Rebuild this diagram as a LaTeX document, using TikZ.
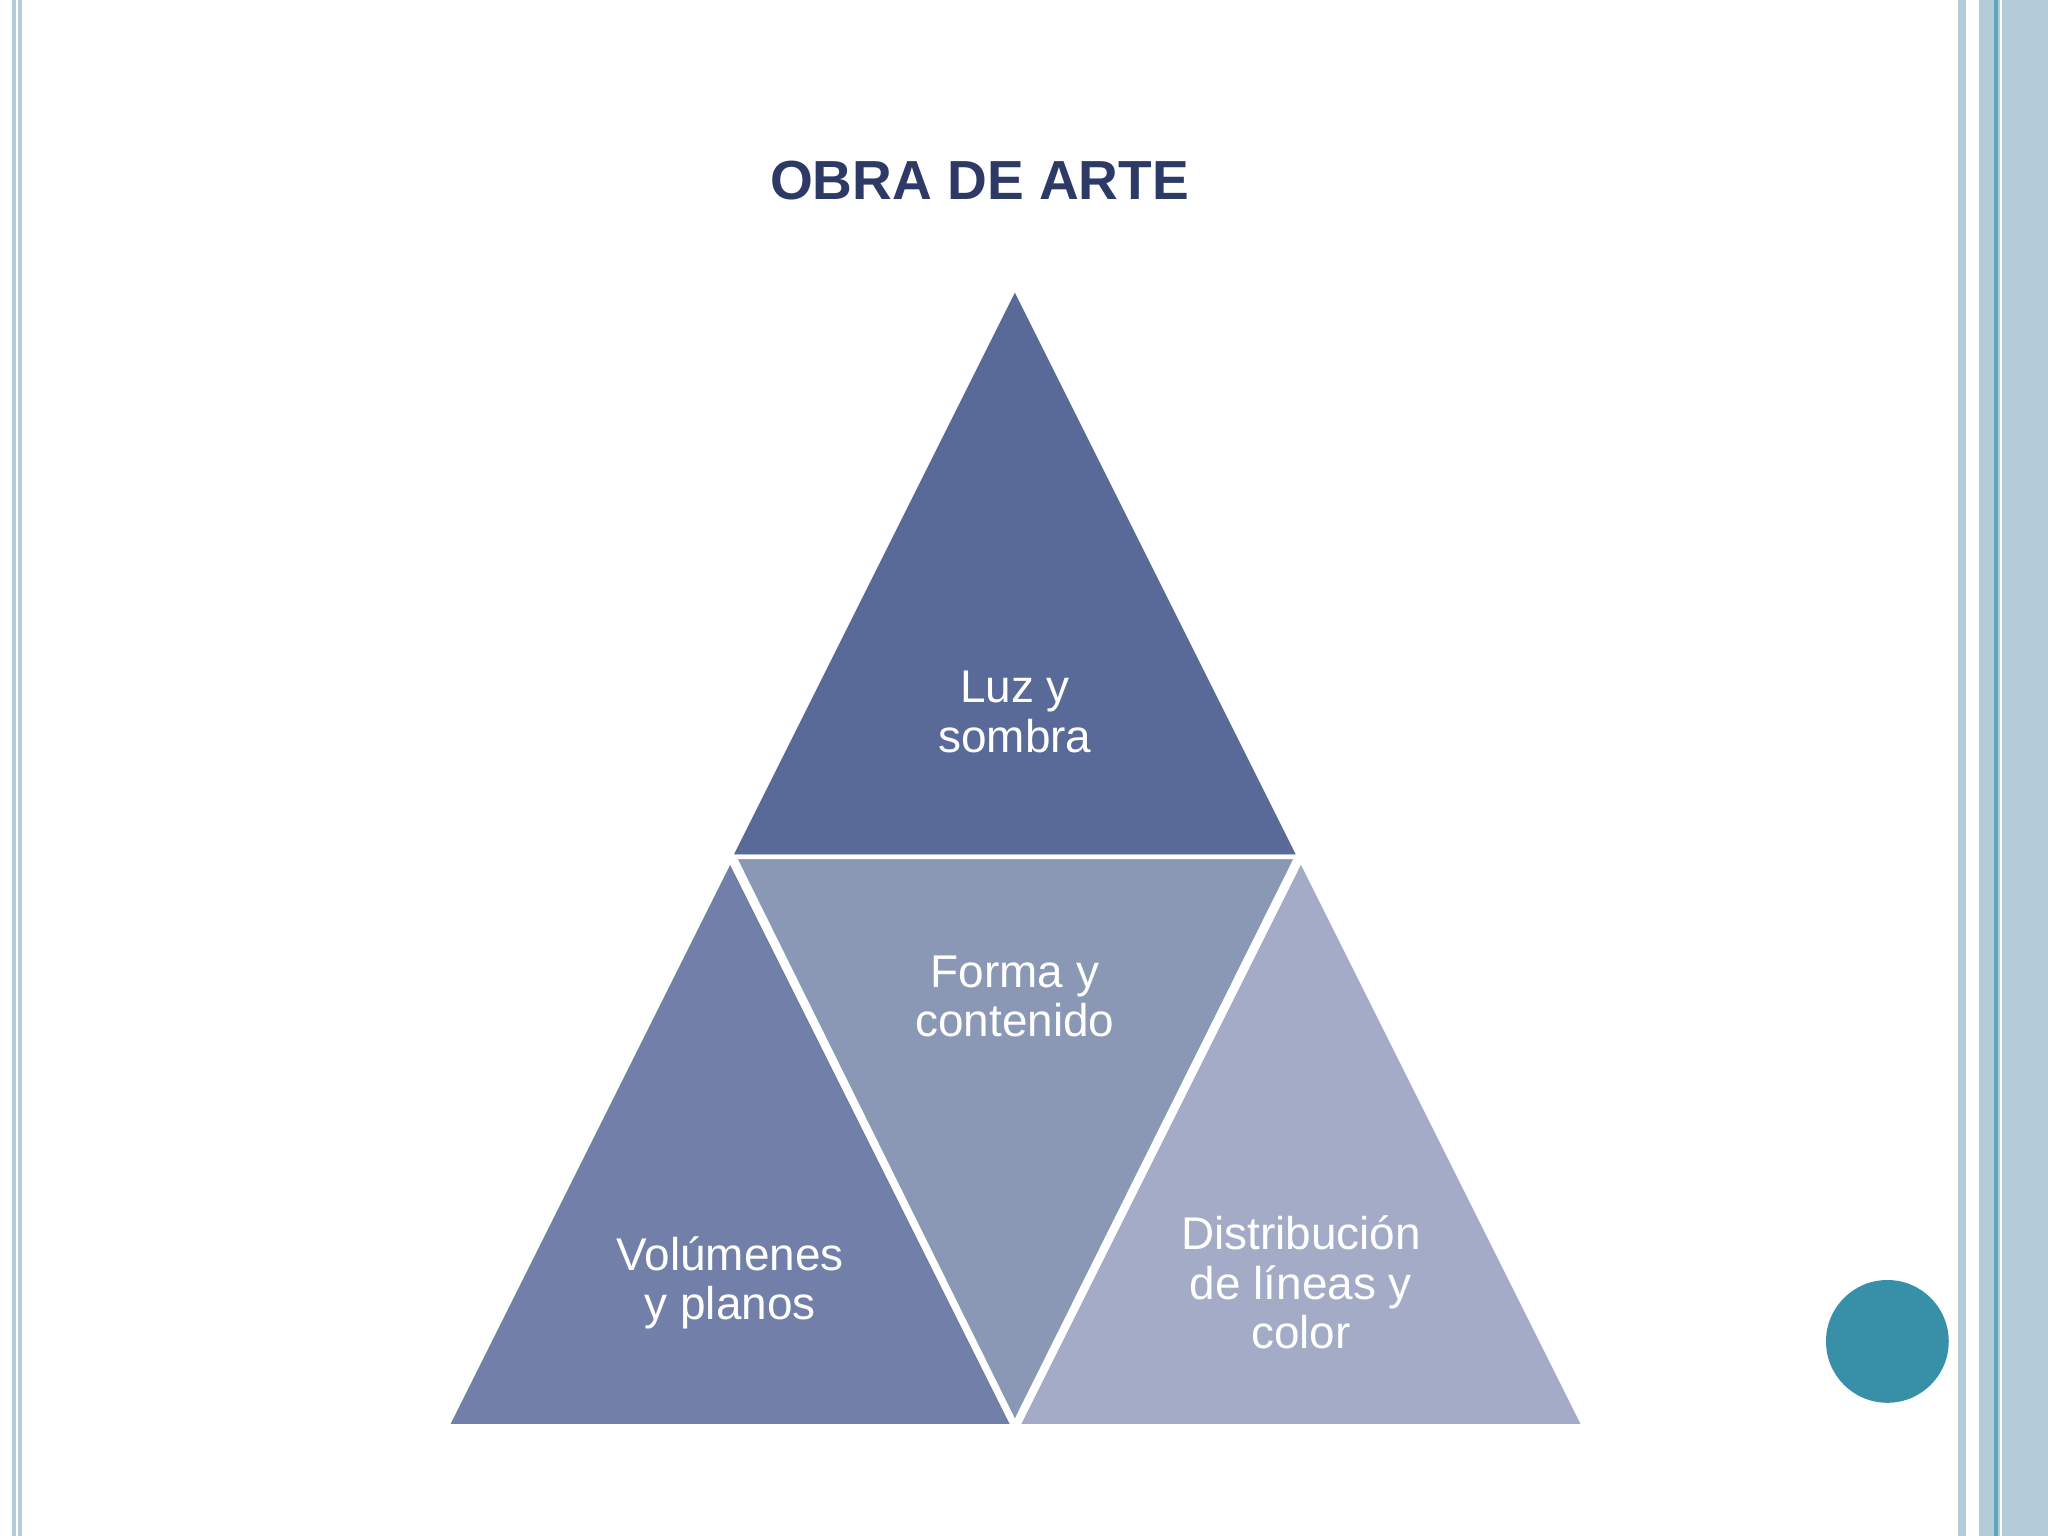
\documentclass[tikz,border=0pt]{standalone}
\usepackage{fontspec}
\setmainfont{Liberation Sans}
\definecolor{cTop}{HTML}{5A6A98}
\definecolor{cLeft}{HTML}{727FA9}
\definecolor{cMid}{HTML}{8A98B6}
\definecolor{cRight}{HTML}{A3ABC7}
\definecolor{cTitle}{HTML}{2E3A66}
\definecolor{cBar}{HTML}{B3CCD8}
\definecolor{cTeal}{HTML}{3890A8}
\tikzset{tri/.style={draw=white,line width=2pt,line join=miter},
lbl/.style={text=white,align=center,font=\fontsize{20}{21.5}\selectfont}}
\begin{document}
\begin{tikzpicture}[x=0.02cm,y=-0.02cm]
\useasboundingbox (0,0) rectangle (1568,1176);
\fill[white] (0,0) rectangle (1568,1176);
% borders
\fill[cBar] (9,0) rectangle (12,1176);
\fill[cBar] (14,0) rectangle (17,1176);
\fill[cBar] (1499,0) rectangle (1505,1176);
\fill[cBar] (1515,0) rectangle (1568,1176);
\fill[cTeal!80] (1527,0) rectangle (1530,1176);
\fill[white] (1531,0) rectangle (1533,1176);
% title
\node[text=cTitle,font=\fontsize{24}{26}\selectfont\bfseries] (title) at (750,138) {OBRA DE ARTE};
% triangles
\fill[tri,fill=cTop] (777,220) -- (995,656) -- (559,656) -- cycle;
\fill[tri,fill=cLeft] (559,658) -- (776,1092) -- (342,1092) -- cycle;
\fill[tri,fill=cMid] (562,656) -- (993,656) -- (777,1090) -- cycle;
\fill[tri,fill=cRight] (996,658) -- (1213,1092) -- (779,1092) -- cycle;
\node[lbl] (luz) at (777,545) {Luz y\\sombra};
\node[lbl] (forma) at (777,763) {Forma y\\contenido};
\node[lbl] (vol) at (559,982) {Volúmenes\\y planos};
\node[lbl] (dist) at (996,982) {Distribución\\de líneas y\\color};
\fill[cTeal] (1445,1027) circle (47);
\end{tikzpicture}
\end{document}
